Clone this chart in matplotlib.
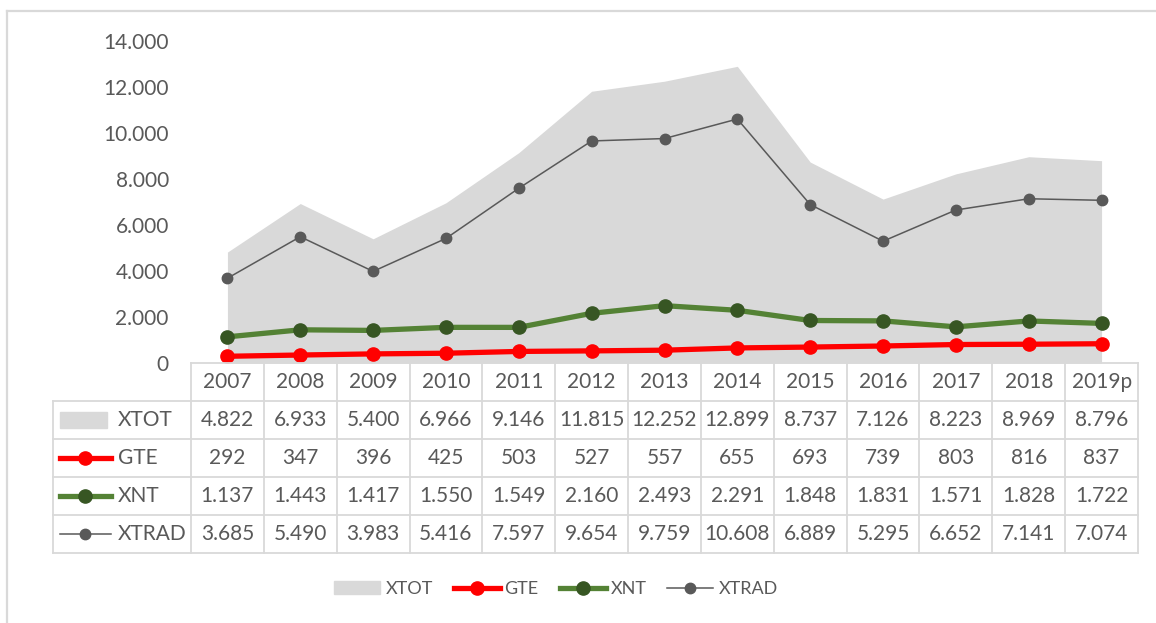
import numpy as np
import matplotlib
matplotlib.use('Agg')
import matplotlib.pyplot as plt
from matplotlib.lines import Line2D
from matplotlib.patches import Rectangle
from matplotlib.ticker import FuncFormatter

plt.rcParams['font.family'] = ['Lato', 'DejaVu Sans']

# dati
anni = ['2007', '2008', '2009', '2010', '2011', '2012', '2013',
        '2014', '2015', '2016', '2017', '2018', '2019p']
xtot = [4822, 6933, 5400, 6966, 9146, 11815, 12252, 12899, 8737, 7126, 8223, 8969, 8796]
gte = [292, 347, 396, 425, 503, 527, 557, 655, 693, 739, 803, 816, 837]
xnt = [1137, 1443, 1417, 1550, 1549, 2160, 2493, 2291, 1848, 1831, 1571, 1828, 1722]
xtrad = [3685, 5490, 3983, 5416, 7597, 9654, 9759, 10608, 6889, 5295, 6652, 7141, 7074]

serie_nomi = ['XTOT', 'GTE', 'XNT', 'XTRAD']
serie_valori = [xtot, gte, xnt, xtrad]

TXT = '#595959'
GRIGIO = '#d9d9d9'
FS = 15


def fmt(v):
    return f'{v:,}'.replace(',', '.')


W, H = 1156, 623
fig = plt.figure(figsize=(W / 100, H / 100), dpi=100)

# area del grafico (in pixel)
L, R = 191, 1138
y0, ytop = 363, 41
ax = fig.add_axes([L / W, 1 - y0 / H, (R - L) / W, (y0 - ytop) / H])
x = np.arange(len(anni))

ax.fill_between(x, xtot, color=GRIGIO, lw=0, zorder=1)
ax.plot(x, xtrad, color='#595959', lw=1.1, marker='o', ms=7.5,
        mfc='#595959', mec='#595959', zorder=3)
ax.plot(x, xnt, color='#548235', lw=3.8, marker='o', ms=9.5,
        mfc='#375623', mec='#375623', zorder=4)
ax.plot(x, gte, color='#ff0000', lw=3.8, marker='o', ms=9.5,
        mfc='#ff0000', mec='#ff0000', zorder=5)

ax.set_xlim(-0.5, len(anni) - 0.5)
ax.set_ylim(0, 14000)
ax.set_yticks(np.arange(0, 14001, 2000))
ax.yaxis.set_major_formatter(FuncFormatter(lambda v, p: fmt(int(v))))
ax.tick_params(axis='y', length=0, pad=16, labelsize=FS, labelcolor=TXT)
ax.set_xticks([])
for s in ax.spines.values():
    s.set_visible(False)
ax.patch.set_alpha(0)

# tabella dati
yb = 553
tax = fig.add_axes([L / W, 1 - yb / H, (R - L) / W, (yb - y0) / H])
n = len(anni)
tax.set_xlim(-0.5, n - 0.5)
tax.set_ylim(5, 0)
tax.axis('off')
colw = (R - L) / n
xl = -0.5 - (L - 53) / colw

lkw = dict(color=GRIGIO, lw=1.3, clip_on=False, zorder=1)
tax.plot([-0.5, n - 0.5], [0, 0], **lkw)
for r in range(1, 6):
    tax.plot([xl, n - 0.5], [r, r], **lkw)
for c in range(n + 1):
    tax.plot([c - 0.5, c - 0.5], [0, 5], **lkw)
tax.plot([xl, xl], [1, 5], **lkw)

for c, a in enumerate(anni):
    tax.text(c, 0.5, a, ha='center', va='center', fontsize=FS, color=TXT)
for r, vals in enumerate(serie_valori):
    for c, v in enumerate(vals):
        tax.text(c, r + 1.5, fmt(v), ha='center', va='center', fontsize=FS, color=TXT)

# chiavi di legenda nella tabella
kx0 = xl + 7 / colw
kx1 = xl + 58 / colw
kxm = (kx0 + kx1) / 2
tax.add_patch(Rectangle((kx0, 1.3), kx1 - kx0 - 0.05, 0.4, color=GRIGIO, clip_on=False))
tax.plot([kx0, kx1], [2.5, 2.5], color='#ff0000', lw=3.8, clip_on=False)
tax.plot([kxm], [2.5], 'o', color='#ff0000', ms=9.5, clip_on=False)
tax.plot([kx0, kx1], [3.5, 3.5], color='#548235', lw=3.8, clip_on=False)
tax.plot([kxm], [3.5], 'o', color='#375623', ms=9.5, clip_on=False)
tax.plot([kx0, kx1], [4.5, 4.5], color='#595959', lw=1.1, clip_on=False)
tax.plot([kxm], [4.5], 'o', color='#595959', ms=7.5, clip_on=False)
for r, nome in enumerate(serie_nomi):
    tax.text(xl + 65 / colw, r + 1.5, nome, ha='left', va='center', fontsize=FS, color=TXT)

# legenda in basso
handles = [
    Rectangle((0, 0), 1, 1, color=GRIGIO),
    Line2D([], [], color='#ff0000', lw=3.8, marker='o', ms=9.5),
    Line2D([], [], color='#548235', lw=3.8, marker='o', ms=9.5, mfc='#375623', mec='#375623'),
    Line2D([], [], color='#595959', lw=1.1, marker='o', ms=7.5),
]
leg = fig.legend(handles, serie_nomi, loc='center', bbox_to_anchor=(556 / W, 1 - 589 / H),
                 ncol=4, frameon=False, fontsize=13, handlelength=2.55, handletextpad=0.28,
                 columnspacing=1.15, labelcolor=TXT)

# bordo del grafico
fig.add_artist(Line2D([7 / W, 7 / W], [0, 1 - 11 / H], color=GRIGIO, lw=1.6))
fig.add_artist(Line2D([7 / W, 1], [1 - 11 / H, 1 - 11 / H], color=GRIGIO, lw=1.6))

fig.savefig('out.png', dpi=100)
